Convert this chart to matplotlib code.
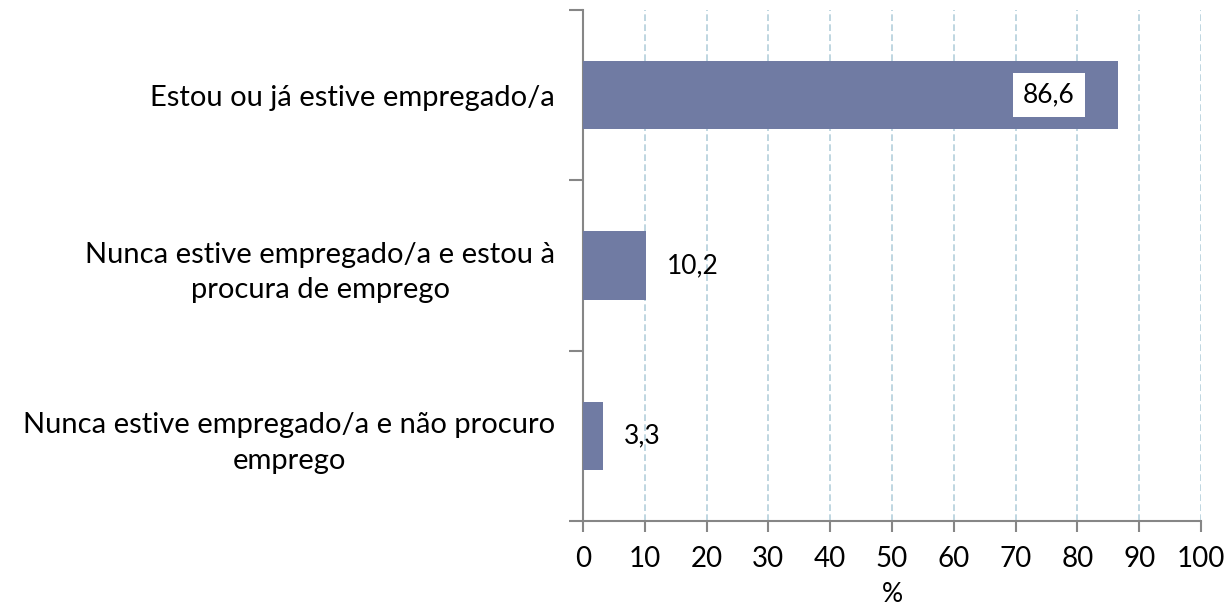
import matplotlib
matplotlib.use("Agg")
import matplotlib.pyplot as plt
from matplotlib.ticker import FixedLocator

categories = ["Estou ou já estive empregado/a",
              "Nunca estive empregado/a e estou à\nprocura de emprego",
              "Nunca estive empregado/a e não procuro\nemprego"]
values = [86.6, 10.2, 3.3]
labels = ["86,6", "10,2", "3,3"]
xticks = list(range(0, 101, 10))

plt.rcParams['font.family'] = ['Lato', 'DejaVu Sans']

fig = plt.figure(figsize=(12.24, 6.08), dpi=100)
ax = fig.add_axes([583/1224, 1-521/608, 618/1224, 511/608])

bar_color = "#707BA3"
n = len(categories)
ypos = list(range(n))
ax.barh(ypos, values, height=0.4, color=bar_color, zorder=3)
ax.set_ylim(n - 0.5, -0.5)
ax.set_xlim(0, 100)

# value labels
for i, (v, lab) in enumerate(zip(values, labels)):
    if v > 50:
        ax.text(v - 7.0, i, lab, ha='right', va='center', fontsize=19, color='black', zorder=5,
                bbox=dict(facecolor='white', edgecolor='none', pad=7))
    else:
        ax.annotate(lab, (v, i), xytext=(15, 0), textcoords='offset points', ha='left',
                    va='center', fontsize=19, color='black')

ax.set_xticks(xticks)
ax.set_xticklabels([str(t) for t in xticks], fontsize=20)
ax.xaxis.grid(True, linestyle=(0, (4, 2)), color='#B4CFDC', linewidth=1.2, zorder=0)
ax.set_axisbelow(True)

# y ticks at category boundaries, labels at centres
ax.yaxis.set_major_locator(FixedLocator([i - 0.5 for i in range(n + 1)]))
ax.set_yticklabels([])
ax.set_yticks(ypos, minor=True)
ax.set_yticklabels(categories, minor=True, fontsize=21, ha='right', multialignment='center',
                   linespacing=1.45)
ax.tick_params(axis='y', which='minor', length=0, pad=20)
ax.tick_params(axis='y', which='major', length=10, width=1.5, color='#868686', direction='out')
ax.tick_params(axis='x', length=8, width=1.5, color='#868686', direction='out', pad=10)

for s in ['top', 'right']:
    ax.spines[s].set_visible(False)
for s in ['left', 'bottom']:
    ax.spines[s].set_color('#868686')
    ax.spines[s].set_linewidth(1.5)

ax.set_xlabel('%', fontsize=19, labelpad=7)

fig.savefig('out.png', dpi=100)
